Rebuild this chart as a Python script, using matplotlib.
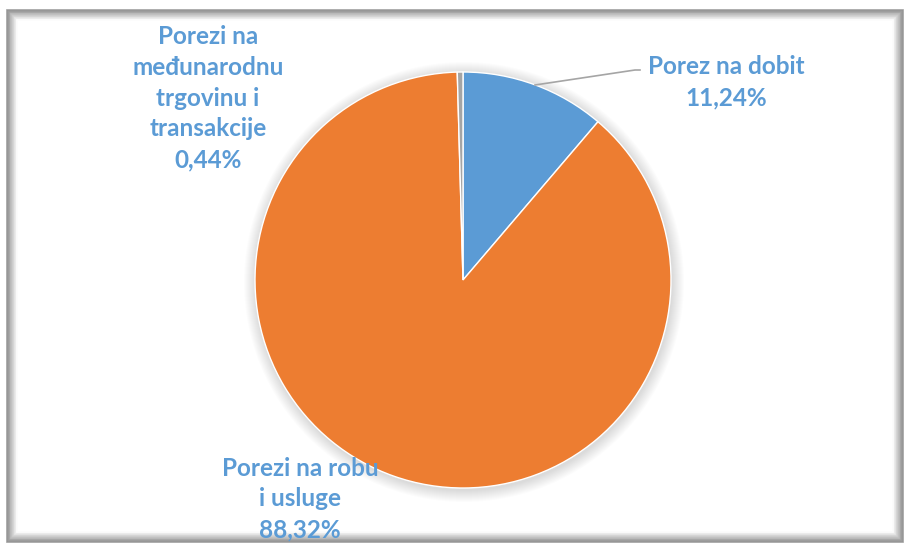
import matplotlib.pyplot as plt
from matplotlib.patches import Rectangle, Circle

# podaci
kategorije = ["Porez na dobit", "Porezi na robu\ni usluge", "Porezi na\nmeđunarodnu\ntrgovinu i\ntransakcije"]
udjeli = [11.24, 88.32, 0.44]
boje = ["#5B9BD5", "#ED7D31", "#A5A5A5"]
oznake = ["11,24%", "88,32%", "0,44%"]

W, H = 906, 544
fig = plt.figure(figsize=(W / 100, H / 100), dpi=100)
ax = fig.add_axes([0, 0, 1, 1])

cx, cy, r = 463, 264, 208

# sjenka ispod pite
for k in range(12):
    ax.add_patch(Circle((cx + 1, cy - 2), r + 12 - k, color="black", alpha=0.012, lw=0, zorder=1))

ax.pie(udjeli, colors=boje, startangle=90, counterclock=False, center=(cx, cy), radius=r,
       wedgeprops=dict(edgecolor="white", linewidth=1, zorder=2), frame=True)
ax.set_xlim(0, W)
ax.set_ylim(0, H)
ax.set_aspect("equal")
ax.axis("off")

# okvir sa sjenkom (bevel)
n = 14
for i in range(n):
    g = 0.5 + 0.5 * i / (n - 1)
    ax.add_patch(Rectangle((7 + i * 0.8, 2 + i * 0.8), 896 - i * 1.6, 532 - i * 1.6,
                           facecolor="none", edgecolor=(g, g, g), lw=1.2, alpha=0.75, zorder=10))

font = dict(family=["Lato", "DejaVu Sans"], fontsize=17.5, fontweight="bold", color="#5B9BD5",
            ha="center", va="center", linespacing=1.42, zorder=12)

ax.plot([535, 635, 640], [H - 85, H - 70, H - 70], color="#A5A5A5", lw=1.2, zorder=4)
ax.text(726, H - 82, kategorije[0] + "\n" + oznake[0], **font)
ax.text(300, H - 499, kategorije[1] + "\n" + oznake[1], **font)
ax.text(208, H - 98, kategorije[2] + "\n" + oznake[2], **font)

fig.savefig("out.png", dpi=100)
